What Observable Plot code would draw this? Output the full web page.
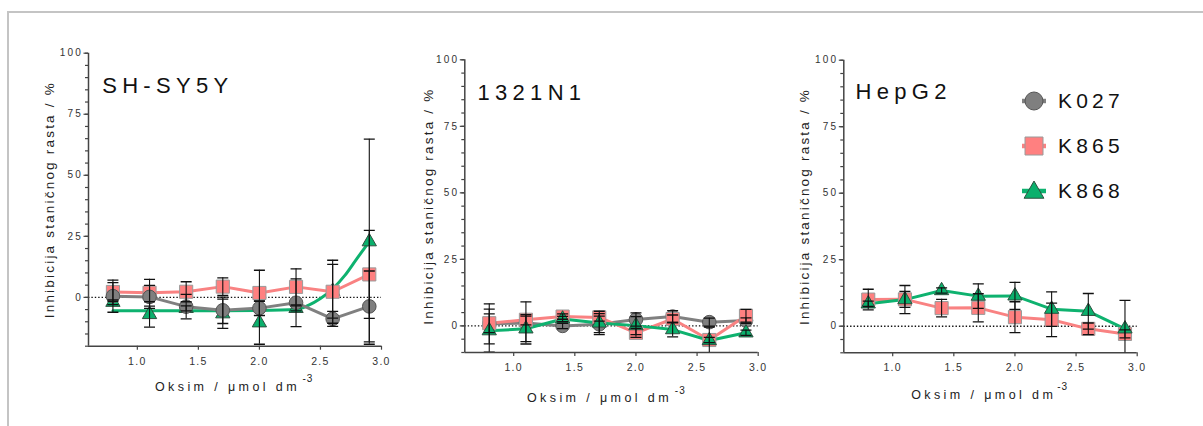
<!DOCTYPE html>
<html><head><meta charset="utf-8">
<script src="https://cdn.jsdelivr.net/npm/d3@7"></script>
<script src="https://cdn.jsdelivr.net/npm/@observablehq/plot@0.6"></script>
<style>
html,body{margin:0;padding:0;background:#fff;width:1203px;height:426px;overflow:hidden;}
#wrap{position:relative;width:1203px;height:426px;font-family:"Liberation Sans",Arial,sans-serif;}
.panel{position:absolute;top:0;}
.panel svg{overflow:visible;background:transparent;}
#border{position:absolute;left:7px;top:11px;width:1400px;height:600px;border-left:2px solid #c4c4c4;border-top:2px solid #c4c4c4;pointer-events:none;z-index:5;}
#legend{position:absolute;left:1020px;top:0;}
g[aria-label="y-axis tick label"] text{letter-spacing:2.2px;}
g[aria-label="x-axis tick label"] text{letter-spacing:1.3px;}
g[aria-description="title"] text{letter-spacing:5.3px;}
g[aria-description="xlabel"] text{letter-spacing:3.4px;}
g[aria-description="xsup"] text{letter-spacing:1px;}
g[aria-description="ylabel"] text{letter-spacing:2.2px;}
.leg-row{position:absolute;left:0;height:30px;display:flex;align-items:center;white-space:nowrap;}
.leg-row span{font-size:21px;letter-spacing:4.2px;color:#111;margin-left:10px;}
</style></head><body><div id="wrap"><div id="border"></div></div>
<script>
// ---------- data ----------
const concentrations = [0.8, 1.1, 1.4, 1.7, 2.0, 2.3, 2.6, 2.9];
const compounds = ["K027", "K865", "K868"];
const cellLines = ["SH-SY5Y", "1321N1", "HepG2"];

// SH-SY5Y  (mean, error)
const shK027 = [0.5, 0.2, -3.8, -5.3, -4.4, -2.2, -8.8, -3.7];
const shK027err = [6.6, 4.7, 5.0, 5.4, 3.0, 9.8, 3.1, 14.5];
const shK865 = [2.2, 1.9, 2.3, 4.4, 1.8, 4.3, 2.3, 9.4];
const shK865err = [3.8, 5.5, 4.1, 3.6, 9.3, 7.4, 12.9, 18.0];
const shK868 = [-2.0, -7.0, -4.5, -6.7, -10.4, -4.5, 2.5, 22.8];
const shK868err = [1.0, 5.2, 1.0, 6.0, 8.8, 1.0, 11.0, 42.0];
// fitted curve drawn for K868 on SH-SY5Y
const shK868fitX = [0.8, 1.1, 1.4, 1.7, 2.0, 2.3, 2.4, 2.5, 2.6, 2.7, 2.8, 2.9];
const shK868fitY = [-5.5, -5.5, -5.5, -5.5, -5.4, -5.0, -3.3, -0.5, 3.5, 9.0, 16.0, 22.8];

// 1321N1
const nK027 = [0.75, 1.1, 0.0, 0.6, 2.4, 3.5, 1.4, 2.0];
const nK027err = [7.5, 7.9, 1.0, 3.1, 2.5, 2.2, 1.5, 1.0];
const nK865 = [1.0, 2.3, 3.5, 3.2, -2.6, 2.6, -5.3, 3.8];
const nK865err = [3.5, 1.9, 1.0, 1.4, 1.7, 1.5, 1.0, 2.4];
const nK868 = [-1.8, -1.1, 2.6, 1.1, 0.1, -1.4, -5.5, -2.6];
const nK868err = [8.1, 4.8, 1.0, 4.4, 3.4, 2.7, 5.0, 1.0];

// HepG2
const hK865 = [10.0, 10.1, 6.8, 6.9, 3.4, 2.4, -1.0, -2.9];
const hK865err = [3.9, 3.0, 3.3, 5.3, 5.8, 6.3, 2.2, 1.5];
const hK868 = [8.4, 10.0, 13.4, 11.3, 11.4, 6.4, 5.6, -1.0];
const hK868err = [1.0, 5.3, 1.0, 4.6, 5.1, 6.5, 6.7, 10.7];

const xTicks = [1.0, 1.5, 2.0, 2.5, 3.0];
const yTicks = [0, 25, 50, 75, 100];
const yLabel = "Inhibicija staničnog rasta / %";
const xLabel = "Oksim / μmol dm";
const xLabelSup = "-3";

// ---------- styles ----------
const colors = {K027: "#808080", K865: "#f98282", K868: "#0eb26f"};
const fills = {K027: "#7f7f7f", K865: "#ff8080", K868: "#0ab06c"};
const outlines = {K027: "#555555", K865: "#9a9a9a", K868: "#2f4f3f"};
const symbols = {K027: "circle", K865: "square", K868: "triangle"};
const radii = {K027: 6.8, K865: 7.4, K868: 5.3};
const axisColor = "#444";
const font = '"Liberation Sans", Arial, sans-serif';

const capSymbol = {draw(ctx) { ctx.moveTo(-5.5, 0); ctx.lineTo(5.5, 0); }};

function rowsOf(compound, means, errs) {
  return concentrations.map((c, i) => ({compound, x: c, y: means[i], lo: means[i] - errs[i], hi: means[i] + errs[i]}));
}

const panels = [
  {title: cellLines[0], left: 0, width: 400, ml: 88, mr: 19, mt: 52.7, mb: 80.3, yDomain: [-20, 100],
   titleDx: 13.7, titleDy: 40, xlDy: 44.3, xlDx: 65, xsDx: 67.5, ylDx: -34.7,
   series: [rowsOf("K868", shK868, shK868err), rowsOf("K865", shK865, shK865err), rowsOf("K027", shK027, shK027err)],
   fit: {compound: "K868", x: shK868fitX, y: shK868fitY}},
  {title: cellLines[1], left: 400, width: 380, ml: 64.3, mr: 22.3, mt: 59.3, mb: 74, yDomain: [-10, 100],
   titleDx: 12.7, titleDy: 39.7, xlDy: 49.7, xlDx: 60.5, xsDx: 63.3, ylDx: -32,
   series: [rowsOf("K027", nK027, nK027err), rowsOf("K865", nK865, nK865err), rowsOf("K868", nK868, nK868err)]},
  {title: cellLines[2], left: 780, width: 423, ml: 63.3, mr: 66.3, mt: 59.7, mb: 73.7, yDomain: [-10, 100],
   titleDx: 11.7, titleDy: 39, xlDy: 46, xlDx: 65.7, xsDx: 66.7, ylDx: -35,
   series: [rowsOf("K865", hK865, hK865err), rowsOf("K868", hK868, hK868err)]}
];

const wrap = document.getElementById("wrap");

for (const p of panels) {
  const minor = d3.range(p.yDomain[0], p.yDomain[1] + 0.001, 5);
  const marks = [
    Plot.ruleY([0], {stroke: "#111", strokeWidth: 1.4, strokeDasharray: "1.4,2"}),
    Plot.axisY({ticks: minor, tickSize: 3, tickFormat: () => "", stroke: axisColor, strokeWidth: 1.2, label: null}),
    Plot.axisY({ticks: yTicks, tickSize: 4.5, tickPadding: 1, fontSize: 10, fill: "#333", stroke: axisColor, strokeWidth: 1.2, label: null}),
    Plot.axisX({ticks: xTicks, tickFormat: d => d.toFixed(1), tickSize: 4, tickPadding: 7, fontSize: 10.5, fill: "#333", stroke: axisColor, strokeWidth: 1.2, label: null}),
    Plot.ruleX([0.6], {stroke: axisColor, strokeWidth: 1.5}),
    Plot.ruleY([p.yDomain[0]], {stroke: axisColor, strokeWidth: 1.5})
  ];
  for (const s of p.series) {
    const c = s[0].compound;
    if (p.fit && p.fit.compound === c) {
      const fitRows = p.fit.x.map((x, i) => ({x, y: p.fit.y[i]}));
      marks.push(Plot.line(fitRows, {x: "x", y: "y", stroke: colors[c], strokeWidth: 3, curve: "monotone-x"}));
    } else {
      marks.push(Plot.line(s, {x: "x", y: "y", stroke: colors[c], strokeWidth: 3}));
    }
  }
  for (const s of p.series) {
    const c = s[0].compound;
    marks.push(Plot.dot(s, {x: "x", y: "y", symbol: symbols[c], r: radii[c], fill: fills[c], stroke: outlines[c], strokeWidth: 1}));
  }
  for (const s of p.series) {
    marks.push(Plot.ruleX(s, {x: "x", y1: "lo", y2: "hi", stroke: "#111", strokeWidth: 1.1, clip: true}));
    marks.push(Plot.dot(s, {x: "x", y: "hi", symbol: capSymbol, r: 5, stroke: "#111", strokeWidth: 1.3, fill: "none", clip: true}));
    marks.push(Plot.dot(s, {x: "x", y: "lo", symbol: capSymbol, r: 5, stroke: "#111", strokeWidth: 1.3, fill: "none", clip: true}));
  }
  marks.push(
    Plot.text([p.title], {frameAnchor: "top-left", textAnchor: "start", lineAnchor: "bottom", dx: p.titleDx, dy: p.titleDy, fontSize: 22, fill: "#111", ariaDescription: "title"}),
    Plot.text([xLabel], {frameAnchor: "bottom", textAnchor: "end", lineAnchor: "bottom", dx: p.xlDx, dy: p.xlDy, fontSize: 12.5, fill: "#222", ariaDescription: "xlabel"}),
    Plot.text([xLabelSup], {frameAnchor: "bottom", textAnchor: "start", lineAnchor: "bottom", dx: p.xsDx, dy: p.xlDy - 8.5, fontSize: 10, fill: "#222", ariaDescription: "xsup"}),
    Plot.text([yLabel], {frameAnchor: "left", rotate: -90, textAnchor: "middle", lineAnchor: "bottom", dx: p.ylDx, fontSize: 13.5, fill: "#222", ariaDescription: "ylabel"})
  );
  const svg = Plot.plot({
    width: p.width, height: 426,
    marginLeft: p.ml, marginRight: p.mr, marginTop: p.mt, marginBottom: p.mb,
    x: {domain: [0.6, 3.0]},
    y: {domain: p.yDomain},
    style: {fontFamily: font, background: "transparent", overflow: "visible"},
    marks
  });
  const div = document.createElement("div");
  div.className = "panel";
  div.style.left = p.left + "px";
  div.appendChild(svg);
  wrap.appendChild(div);
}

// ---------- legend ----------
const legend = document.createElement("div");
legend.id = "legend";
wrap.appendChild(legend);
const legendCenters = [100.7, 145.7, 191];
compounds.forEach((c, i) => {
  const row = document.createElement("div");
  row.className = "leg-row";
  row.style.top = (legendCenters[i] - 15) + "px";
  const svg = d3.create("svg").attr("width", 28).attr("height", 30);
  svg.append("line").attr("x1", 2).attr("x2", 26).attr("y1", 15).attr("y2", 15)
    .attr("stroke", colors[c]).attr("stroke-width", 4.5);
  const sym = {circle: d3.symbolCircle, square: d3.symbolSquare, triangle: d3.symbolTriangle}[symbols[c]];
  const size = {circle: Math.PI * 9 * 9, square: 18 * 18, triangle: 170}[symbols[c]];
  svg.append("path").attr("d", d3.symbol(sym, size)()).attr("transform", `translate(14,${symbols[c] === "triangle" ? 16.5 : 15})`)
    .attr("fill", fills[c]).attr("stroke", outlines[c]).attr("stroke-width", 1);
  row.appendChild(svg.node());
  const span = document.createElement("span");
  span.textContent = c;
  row.appendChild(span);
  legend.appendChild(row);
});
</script></body></html>
